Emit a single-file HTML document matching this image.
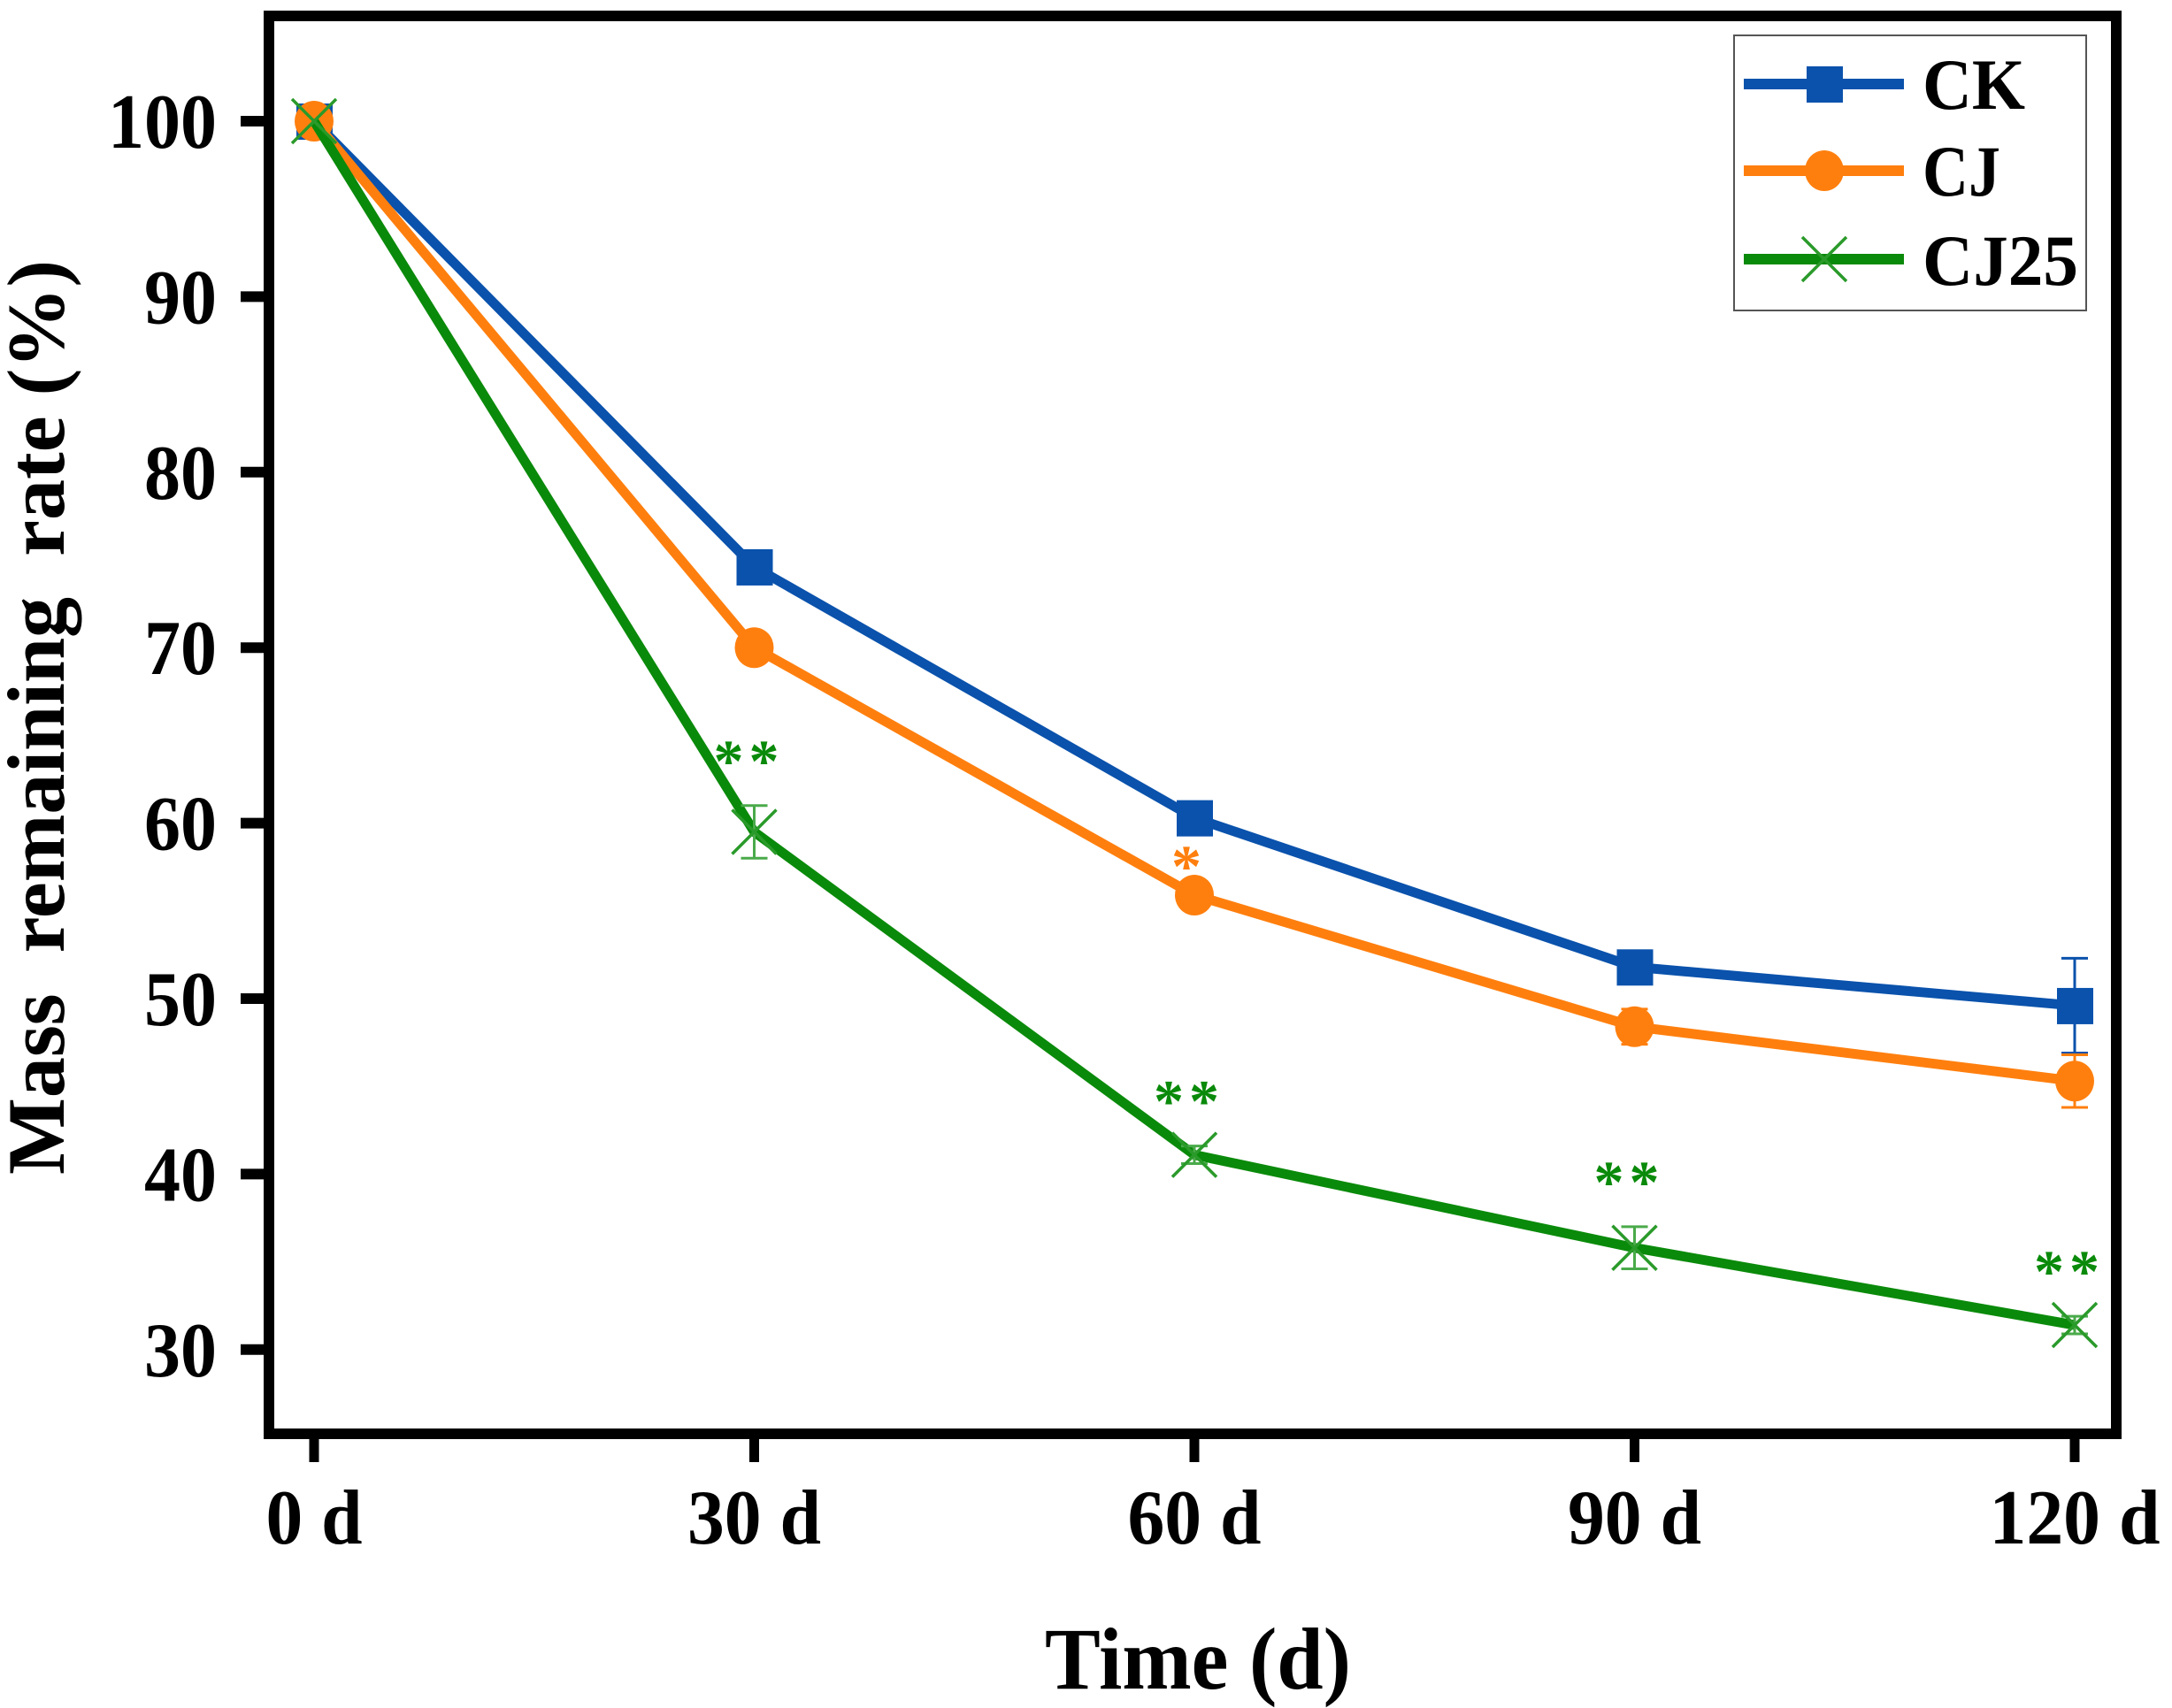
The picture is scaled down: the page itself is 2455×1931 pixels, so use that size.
<!DOCTYPE html>
<html>
<head>
<meta charset="utf-8">
<style>
html,body{margin:0;padding:0;background:#fff;}
svg{display:block;}
text{font-family:"Liberation Serif",serif;font-weight:bold;}
</style>
</head>
<body>
<svg id="chart" width="2455" height="1931" viewBox="0 0 2455 1931" xmlns="http://www.w3.org/2000/svg">
  <g id="plot"></g>
  <rect x="304" y="18" width="2088" height="1603" fill="none" stroke="#000" stroke-width="12"/>
  <g id="axes"></g>
  <text x="1354" y="1909" font-size="100" text-anchor="middle" textLength="346" lengthAdjust="spacingAndGlyphs">Time (d)</text>
  <text transform="translate(72,811) rotate(-90)" x="0" y="0" font-size="92" text-anchor="middle" textLength="1034" lengthAdjust="spacingAndGlyphs" xml:space="preserve">Mass  remaining  rate (%)</text>
  <g id="legend">
    <rect x="1960" y="40" width="398" height="311" fill="#fff" stroke="#555" stroke-width="2"/>
  </g>
</svg>
<script>
const categories = ["0 d", "30 d", "60 d", "90 d", "120 d"];
const yTicks = [30, 40, 50, 60, 70, 80, 90, 100];
const seriesNames = ["CK", "CJ", "CJ25"];
const ckValues = [100, 74.6, 60.3, 51.8, 49.6];
const cjValues = [100, 70.0, 55.9, 48.4, 45.3];
const cj25Values = [100, 59.5, 41.1, 35.8, 31.4];
const ckErrors = [0, 0.3, 0.3, 0.3, 2.7];
const cjErrors = [0, 0.3, 0.3, 1.0, 1.5];
const cj25Errors = [0, 1.5, 0.5, 1.2, 0.5];
const cjSignif = ["", "", "*", "", ""];
const cj25Signif = ["", "**", "**", "**", "**"];

const NS = "http://www.w3.org/2000/svg";
function xPos(i){ return 355 + i * 497.5; }
function yPos(v){ return 137 + (100 - v) * 19.84; }
function mk(tag, attrs, parent){
  const e = document.createElementNS(NS, tag);
  for (const k in attrs) e.setAttribute(k, attrs[k]);
  parent.appendChild(e);
  return e;
}
const plot = document.getElementById('plot');
const axes = document.getElementById('axes');
const legend = document.getElementById('legend');

yTicks.forEach(v => {
  const y = yPos(v);
  const t = mk('line', {x1: 272, x2: 300, y1: y, y2: y, stroke: '#000', 'stroke-width': 12}, axes);
  
  
  const s = String(v);
  const lb = mk('text', {x: 245, y: y + 30, 'font-size': 88, 'text-anchor': 'end', textLength: 41 * s.length, lengthAdjust: 'spacingAndGlyphs'}, axes);
  lb.textContent = s;
  
  
});
categories.forEach((c, i) => {
  const x = xPos(i);
  const t = mk('line', {x1: x, x2: x, y1: 1624, y2: 1653, stroke: '#000', 'stroke-width': 11}, axes);
  
  
  const lb = mk('text', {x: x, y: 1745, 'font-size': 88, 'text-anchor': 'middle', textLength: 109 + 42 * (c.length - 3), lengthAdjust: 'spacingAndGlyphs'}, axes);
  lb.textContent = c;
  
  
});

const series = [
  {name: 'ck', vals: ckValues, errs: ckErrors, color: '#0a52ac', marker: 'square', sig: null},
  {name: 'cj', vals: cjValues, errs: cjErrors, color: '#ff7f0e', marker: 'circle', sig: cjSignif},
  {name: 'cj25', vals: cj25Values, errs: cj25Errors, color: '#0a8a0a', marker: 'cross', sig: cj25Signif}
];

function drawMarker(type, x, y, color, parent, nm){
  let m;
  if (type === 'square') {
    m = mk('rect', {x: x - 20, y: y - 20, width: 41, height: 41, fill: color}, parent);
  } else if (type === 'circle') {
    m = mk('ellipse', {cx: x, cy: y, rx: 22, ry: 23, fill: color}, parent);
  } else {
    m = mk('path', {d: `M${x-25},${y-25}L${x+25},${y+25}M${x-25},${y+25}L${x+25},${y-25}`, stroke: '#2a9a2a', 'stroke-width': 3.5, fill: 'none'}, parent);
  }
  
  
}

series.forEach(s => {
  const g = mk('g', {}, plot);
  
  
  const pts = s.vals.map((v, i) => xPos(i) + ',' + yPos(v)).join(' ');
  const ln = mk('polyline', {points: pts, fill: 'none', stroke: s.color, 'stroke-width': 11, 'stroke-linejoin': 'round'}, g);
  
  
  s.vals.forEach((v, i) => {
    const x = xPos(i), y = yPos(v), e = s.errs[i];
    if (e > 0) {
      const ec = s.marker === 'cross' ? '#4aaa4a' : s.color;
      const eb = mk('path', {d: `M${x},${yPos(v+e)}L${x},${yPos(v-e)}M${x-15},${yPos(v+e)}L${x+15},${yPos(v+e)}M${x-15},${yPos(v-e)}L${x+15},${yPos(v-e)}`, stroke: ec, 'stroke-width': 3, fill: 'none'}, g);
      
      
    }
    drawMarker(s.marker, x, y, s.color, g, s.name + '-point-' + i);
    if (s.sig && s.sig[i]) {
      const off = s.marker === 'cross' ? 72 : 48;
      const st = mk('text', {x: x - 6, y: yPos(v + e) - off + 44, 'font-size': 68, 'text-anchor': 'middle', fill: s.color, 'letter-spacing': 6}, g);
      st.textContent = s.sig[i];
      
      
    }
  });
});

const legY = [95, 193, 293];
const legBase = [123, 221, 322];
series.forEach((s, k) => {
  const g = mk('g', {}, legend);
  
  
  const ln = mk('line', {x1: 1971, x2: 2152, y1: legY[k], y2: legY[k], stroke: s.color, 'stroke-width': 12}, g);
  
  
  drawMarker(s.marker, 2062, legY[k], s.color, g, 'legend-marker-' + s.name);
  const t = mk('text', {x: 2173, y: legBase[k], 'font-size': 82, textLength: seriesNames[k].length * 44 + (k === 0 ? 28 : 0), lengthAdjust: 'spacingAndGlyphs'}, g);
  t.textContent = seriesNames[k];
  
  
});
</script>
</body>
</html>
